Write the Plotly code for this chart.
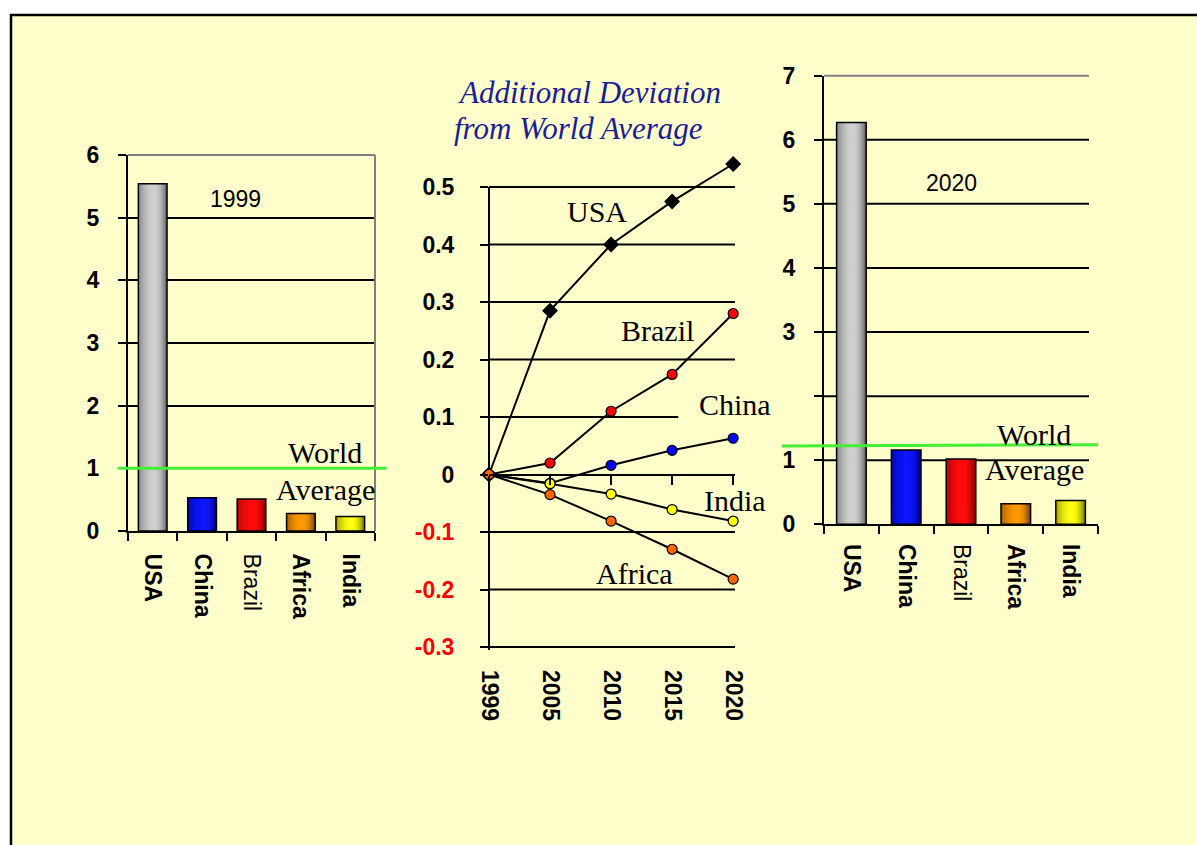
import plotly.graph_objects as go

W, H = 1197, 845

# ---------------- data ----------------
countries = ["USA", "China", "Brazil", "Africa", "India"]
country_labels = ["<b>USA</b>", "<b>China</b>", "Brazil", "<b>Africa</b>", "<b>India</b>"]
values_1999 = [5.54, 0.53, 0.51, 0.28, 0.23]
values_2020 = [6.27, 1.16, 1.02, 0.32, 0.37]
world_avg_1999 = 1.0
world_avg_2020 = 1.22

years = ["1999", "2005", "2010", "2015", "2020"]
dev_usa = [0, 0.285, 0.40, 0.475, 0.54]
dev_brazil = [0, 0.02, 0.11, 0.174, 0.28]
dev_china = [0, -0.015, 0.016, 0.042, 0.063]
dev_india = [0, -0.016, -0.034, -0.061, -0.081]
dev_africa = [0, -0.035, -0.081, -0.13, -0.182]

left_ticks = [0, 1, 2, 3, 4, 5, 6]
mid_ticks = [-0.3, -0.2, -0.1, 0, 0.1, 0.2, 0.3, 0.4, 0.5]
mid_ticktext = ['<span style="color:#ff0000">-0.3</span>', '<span style="color:#ff0000">-0.2</span>',
                '<span style="color:#ff0000">-0.1</span>', "0", "0.1", "0.2", "0.3", "0.4", "0.5"]
right_ticks = [0, 1, 2, 3, 4, 5, 6, 7]
right_ticktext = ["0", "1", "", "3", "4", "5", "6", "7"]

# ---------------- styles ----------------
BG = "#FFFFCC"
GRAY = "#808080"
GREEN = "#44ee33"
SANS = "Liberation Sans"
SERIF = "Liberation Serif"

bar_dark = ["#505050", "#000070", "#700000", "#603000", "#5a5a00"]
bar_light = ["#d0d0d0", "#0a14ff", "#ff0a0a", "#ff9a00", "#ffff10"]

series = [
    ("USA", dev_usa, "#000000", "diamond"),
    ("Brazil", dev_brazil, "#ff0000", "circle"),
    ("China", dev_china, "#0000ff", "circle"),
    ("India", dev_india, "#ffff00", "circle"),
    ("Africa", dev_africa, "#ff6600", "circle"),
]

# ---------------- geometry (pixels -> paper) ----------------
def px_x(p):
    return p / W

def px_y(p):
    return 1 - p / H

left_xdom = [px_x(128), px_x(375)]
left_ydom = [px_y(531), px_y(155)]
left_yrange = [0, 6]

mid_xdom = [px_x(489), px_x(735)]
mid_ydom = [px_y(647), px_y(152.5)]
mid_yrange = [-0.3, 0.56]
mid_xrange = [0, 4.03]

right_xdom = [px_x(824), px_x(1098)]
right_ydom = [px_y(524.3), px_y(75.7)]
right_yrange = [0, 7]
right_grid_end = (1089 - 824) / (1098 - 824)  # grid lines stop a little short of the axis end


def yfrac(v, rng):
    return (v - rng[0]) / (rng[1] - rng[0])


def hexmix(a, b, p):
    a = [int(a[i:i + 2], 16) for i in (1, 3, 5)]
    b = [int(b[i:i + 2], 16) for i in (1, 3, 5)]
    c = [round(a[k] + (b[k] - a[k]) * p) for k in range(3)]
    return "#%02x%02x%02x" % tuple(c)


def profile(t):
    peak = 0.55
    if t < peak:
        s = (t - peak) / 0.72
    else:
        s = (t - peak) / 0.47
    return max(0.0, 1 - s * s)


N_STRIPES = 14


def bar_traces(xa, ya, vals, width):
    out = []
    sw = width / N_STRIPES
    for i in range(N_STRIPES):
        t = (i + 0.5) / N_STRIPES
        p = profile(t)
        cols = [hexmix(d, l, p) for d, l in zip(bar_dark, bar_light)]
        w = sw + (0.012 if i < N_STRIPES - 1 else 0)
        out.append(go.Bar(x=countries, y=vals, xaxis=xa, yaxis=ya,
                          width=[w] * len(vals), offset=[-width / 2 + i * sw] * len(vals),
                          marker=dict(color=cols, line=dict(width=0)),
                          showlegend=False, hoverinfo="skip"))
    out.append(go.Bar(x=countries, y=vals, xaxis=xa, yaxis=ya,
                      width=[width] * len(vals), offset=[-width / 2] * len(vals),
                      marker=dict(color="rgba(0,0,0,0)", line=dict(color="#000000", width=1.5)),
                      showlegend=False, hoverinfo="skip"))
    return out


fig = go.Figure()
for tr in bar_traces("x", "y", values_1999, 0.58):
    fig.add_trace(tr)
for tr in bar_traces("x3", "y3", values_2020, 0.54):
    fig.add_trace(tr)

for name, vals, col, sym in series:
    fig.add_trace(go.Scatter(
        x=years, y=vals, xaxis="x2", yaxis="y2", mode="lines+markers", name=name,
        line=dict(color="#000000", width=2),
        marker=dict(symbol=sym, size=10 if sym == "circle" else 11, color=col,
                    line=dict(color="#000000", width=1.2)),
        cliponaxis=False, showlegend=False, hoverinfo="skip"))

# helper trace registering the zero-line axis of the middle chart
fig.add_trace(go.Scatter(x=[], y=[], xaxis="x4", yaxis="y2", showlegend=False, hoverinfo="skip"))

tick_font = dict(family=SANS, size=23, color="#000000")

axis_common = dict(showgrid=False, zeroline=False, fixedrange=True, automargin=False)

fig.update_layout(
    template="none",
    width=W, height=H,
    autosize=False,
    margin=dict(l=0, r=0, t=0, b=0, pad=0),
    paper_bgcolor="#ffffff",
    plot_bgcolor="rgba(0,0,0,0)",
    barmode="overlay",
    showlegend=False,
    # left bars (1999)
    xaxis=dict(domain=left_xdom, anchor="y", type="category", categoryorder="array",
               categoryarray=countries, range=[-0.5, 4.5],
               tickmode="array", tickvals=countries, ticktext=country_labels,
               tickson="boundaries", ticks="outside", ticklen=8, tickwidth=2, tickcolor="#000000",
               showline=True, linecolor="#000000", linewidth=2, tickangle=90,
               tickfont=tick_font, ticklabelstandoff=16, **axis_common),
    yaxis=dict(domain=left_ydom, anchor="x", range=left_yrange, tickmode="array",
               tickvals=left_ticks, ticktext=[f"<b>{v}</b>" for v in left_ticks],
               ticks="outside", ticklen=8, tickwidth=2, tickcolor="#000000",
               showline=True, linecolor="#000000", linewidth=2,
               showgrid=True, gridcolor="#000000", gridwidth=2, zeroline=False,
               tickfont=tick_font, ticklabelstandoff=14, fixedrange=True, automargin=False),
    # middle lines
    xaxis2=dict(domain=mid_xdom, anchor="y2", type="category", categoryorder="array",
                categoryarray=years, range=mid_xrange, tickmode="array", tickvals=years,
                ticktext=[f"<b>{y}</b>" for y in years], ticks="", showline=False,
                tickangle=90, tickfont=dict(family=SANS, size=23, color="#000000"),
                ticklabelstandoff=22, **axis_common),
    yaxis2=dict(domain=mid_ydom, anchor="x2", range=mid_yrange, tickmode="array",
                tickvals=mid_ticks, ticktext=[f"<b>{t}</b>" for t in mid_ticktext],
                ticks="outside", ticklen=8, tickwidth=2, tickcolor="#000000",
                showline=False, tickfont=tick_font, ticklabelstandoff=21, **axis_common),
    xaxis4=dict(overlaying="x2", anchor="free", type="linear",
                position=mid_ydom[0] + yfrac(0, mid_yrange) * (mid_ydom[1] - mid_ydom[0]),
                range=mid_xrange, tickmode="array", tickvals=[0, 1, 2, 3, 4],
                ticks="outside", ticklen=9, tickwidth=2, tickcolor="#000000",
                showline=True, linecolor="#000000", linewidth=2, showticklabels=False,
                **axis_common),
    # right bars (2020)
    xaxis3=dict(domain=right_xdom, anchor="y3", type="category", categoryorder="array",
                categoryarray=countries, range=[-0.5, 4.5],
                tickmode="array", tickvals=countries, ticktext=country_labels,
                tickson="boundaries", ticks="outside", ticklen=8, tickwidth=2, tickcolor="#000000",
                showline=True, linecolor="#000000", linewidth=2, tickangle=90,
                tickfont=tick_font, ticklabelstandoff=13, **axis_common),
    yaxis3=dict(domain=right_ydom, anchor="x3", range=right_yrange, tickmode="array",
                tickvals=right_ticks, ticktext=[f"<b>{t}</b>" if t else "" for t in right_ticktext],
                ticks="outside", ticklen=8, tickwidth=2, tickcolor="#000000",
                showline=True, linecolor="#000000", linewidth=2,
                tickfont=tick_font, ticklabelstandoff=14, **axis_common),
)

shapes = []
# slide frame
shapes.append(dict(type="rect", xref="paper", yref="paper", x0=px_x(11), x1=1.05, y0=-0.05, y1=px_y(15),
                   fillcolor=BG, line=dict(color="#000000", width=2.5), layer="below"))

# middle chart grid lines
short_grid_value = 0.1
short_grid_end = 3.1  # in category units
for v in mid_ticks:
    if v == 0:
        continue
    x1 = short_grid_end / mid_xrange[1] if abs(v - short_grid_value) < 1e-9 else 1
    shapes.append(dict(type="line", xref="x2 domain", yref="y2 domain", x0=0, x1=x1,
                       y0=yfrac(v, mid_yrange), y1=yfrac(v, mid_yrange),
                       line=dict(color="#000000", width=2), layer="below"))
# middle y axis line
shapes.append(dict(type="line", xref="x2 domain", yref="y2 domain", x0=0, x1=0,
                   y0=yfrac(-0.305, mid_yrange), y1=yfrac(0.5, mid_yrange),
                   line=dict(color="#000000", width=2), layer="below"))

# right chart grid lines (1..6 black, 7 gray)
for v in right_ticks[1:-1]:
    shapes.append(dict(type="line", xref="x3 domain", yref="y3 domain", x0=0, x1=right_grid_end,
                       y0=yfrac(v, right_yrange), y1=yfrac(v, right_yrange),
                       line=dict(color="#000000", width=2), layer="below"))
shapes.append(dict(type="line", xref="x3 domain", yref="y3 domain", x0=0, x1=right_grid_end,
                   y0=1, y1=1, line=dict(color=GRAY, width=2)))

# left chart gray frame (top and right)
shapes.append(dict(type="line", xref="x domain", yref="y domain", x0=0, x1=1, y0=1, y1=1,
                   line=dict(color=GRAY, width=2)))
shapes.append(dict(type="line", xref="x domain", yref="y domain", x0=1, x1=1, y0=0, y1=1,
                   line=dict(color=GRAY, width=2)))

# world-average lines
shapes.append(dict(type="line", xref="x domain", yref="y domain", x0=-0.042, x1=1.047,
                   y0=yfrac(world_avg_1999, left_yrange), y1=yfrac(world_avg_1999, left_yrange),
                   line=dict(color=GREEN, width=3)))
shapes.append(dict(type="line", xref="x3 domain", yref="y3 domain", x0=-0.154, x1=1.0,
                   y0=yfrac(world_avg_2020, right_yrange), y1=yfrac(world_avg_2020, right_yrange) + 0.003,
                   line=dict(color=GREEN, width=3)))
fig.update_layout(shapes=shapes)

ann = []


def add_text(text, xp, yp, family, size, color="#000000", italic=False):
    ann.append(dict(text=text, xref="paper", yref="paper", x=px_x(xp), y=px_y(yp),
                    xanchor="center", yanchor="middle", showarrow=False,
                    font=dict(family=family, size=size, color=color,
                              style="italic" if italic else "normal")))


add_text("Additional Deviation", 589, 92, SERIF, 31, "#1c1c96", italic=True)
add_text("from World Average", 578, 129, SERIF, 31, "#1c1c96", italic=True)
add_text("1999", 235, 199, SANS, 23)
add_text("2020", 951, 183, SANS, 23)
add_text("World", 325, 452, SERIF, 30)
add_text("Average", 325, 490, SERIF, 30)
add_text("World", 1034, 434, SERIF, 30)
add_text("Average", 1034, 470, SERIF, 30)
add_text("USA", 597, 211, SERIF, 30)
add_text("Brazil", 657, 331, SERIF, 30)
add_text("China", 735, 404, SERIF, 30)
add_text("India", 735, 500, SERIF, 30)
add_text("Africa", 634, 573, SERIF, 30)
fig.update_layout(annotations=ann)

fig.write_html(
    "out.html",
    post_script="document.body.style.margin='0';document.body.style.overflow='hidden';",
)
